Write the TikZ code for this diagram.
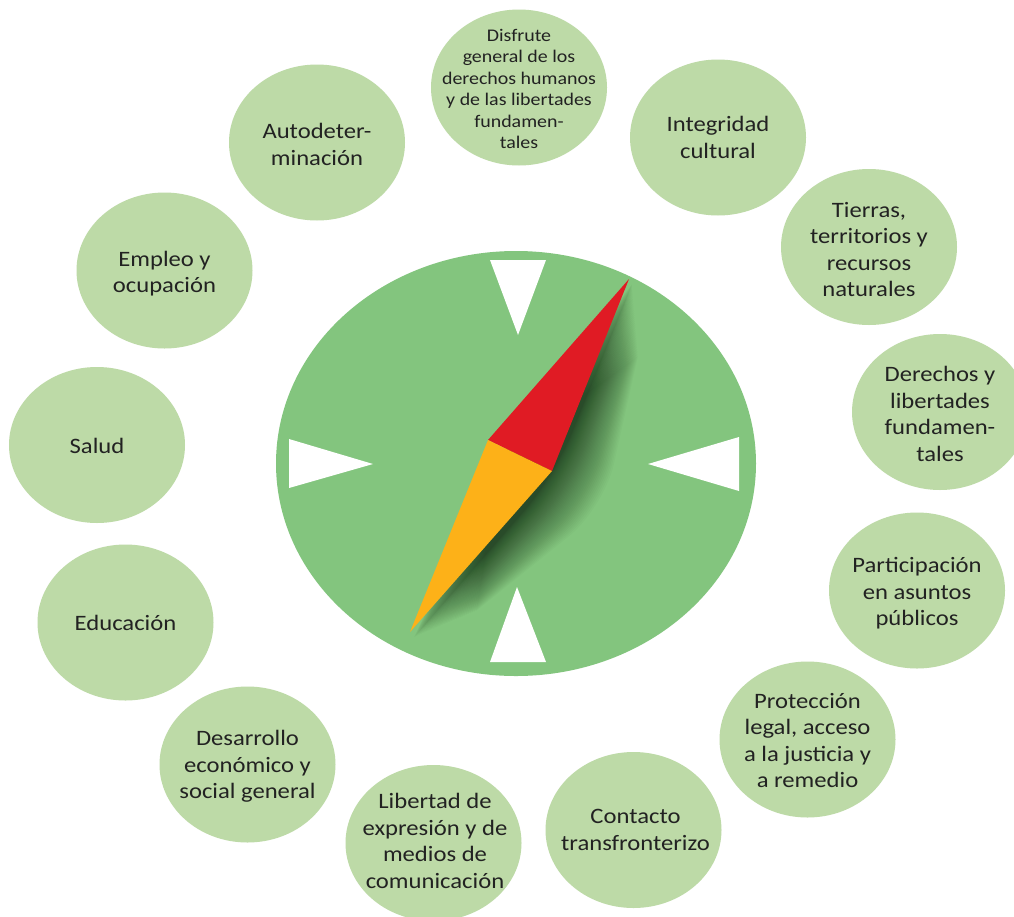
\documentclass[tikz,border=0pt]{standalone}
\usepackage{fontspec}
\setmainfont[FakeStretch=1.12]{Carlito}
\usetikzlibrary{shapes.geometric}
\definecolor{bub}{HTML}{BDDAA7}
\definecolor{dial}{HTML}{83C57E}
\definecolor{nred}{HTML}{E01B24}
\definecolor{norg}{HTML}{FDB118}
\definecolor{ink}{HTML}{222222}
\definecolor{shade}{HTML}{0A1F0C}
\tikzset{
  x=1pt,y=-1pt,
  bubble/.style={ellipse,fill=bub,inner sep=0pt,minimum width=176pt,minimum height=156pt},
  bubtext/.style={text=ink,align=center,inner sep=0pt,font=\fontsize{22}{26.6}\selectfont},
  smalltxt/.style={font=\fontsize{17.8}{21.4}\selectfont},
  mark tri/.style={fill=white},
  shadowlayer/.style={fill=shade,fill opacity=.024},
}
% name, x, y, downward nudge of the text, text options, text
\newcommand{\bubnode}[6]{%
  \node[bubble] (#1) at (#2,#3) {};
  \node[bubtext,#5,yshift=-#4pt] (#1t) at (#1.center) {#6};
}
\begin{document}
\begin{tikzpicture}
\useasboundingbox (0,0) rectangle (1014,916);
\fill[white] (0,0) rectangle (1014,916);
% bubbles
\bubnode{n1}{519}{87.5}{1.5}{smalltxt}{Disfrute\\general de los\\derechos humanos\\y de las libertades\\fundamen-\\tales}
\bubnode{n2}{718}{137.5}{0}{}{Integridad\\cultural}
\bubnode{n3}{869}{247}{2.5}{}{Tierras,\\territorios y\\recursos\\naturales}
\bubnode{n4}{940}{412}{2}{}{Derechos y\\libertades\\fundamen-\\tales}
\bubnode{n5}{917}{590.5}{3}{}{Participación\\en asuntos\\públicos}
\bubnode{n6}{807.5}{739.5}{1}{}{Protección\\legal, acceso\\a la justicia y\\a remedio}
\bubnode{n7}{633.5}{830}{0}{xshift=2pt}{Contacto\\transfronterizo}
\bubnode{n8}{433.5}{843}{-2}{xshift=1.5pt}{Libertad de\\expresión y de\\medios de\\comunicación}
\bubnode{n9}{247.5}{764.5}{2}{}{Desarrollo\\económico y\\social general}
\bubnode{n10}{125.5}{622.5}{0}{}{Educación}
\bubnode{n11}{97}{445}{1}{}{Salud}
\bubnode{n12}{164.5}{270.5}{3}{}{Empleo y\\ocupación}
\bubnode{n13}{317}{142.5}{2}{}{Autodeter-\\minación}
% dial
\node[ellipse,fill=dial,inner sep=0pt,minimum width=480pt,minimum height=425pt] (dial) at (516,463.5) {};
\fill[mark tri] (490,260) -- (546,260) -- (518,335) -- cycle;
\fill[mark tri] (289,439) -- (289,488) -- (373,464) -- cycle;
\fill[mark tri] (739,437) -- (739,491) -- (648,464) -- cycle;
\fill[mark tri] (490,662) -- (546,662) -- (517,587) -- cycle;
% needle shadow
\foreach \i in {1,...,44}{
  \pgfmathsetmacro{\t}{pow(\i/44,1.5)}
  \fill[shadowlayer] ({632+6*\t},{284+72*\t}) [rounded corners=45pt] -- ({554+50*\t},{476+32*\t}) [sharp corners] -- ({414+62*\t},{637-26*\t}) -- (500,455) -- cycle;
}
% needle
\fill[nred] (629,279) -- (488,440) -- (552,471) -- cycle;
\fill[norg] (410,632) -- (488,440) -- (552,471) -- cycle;
\end{tikzpicture}
\end{document}
